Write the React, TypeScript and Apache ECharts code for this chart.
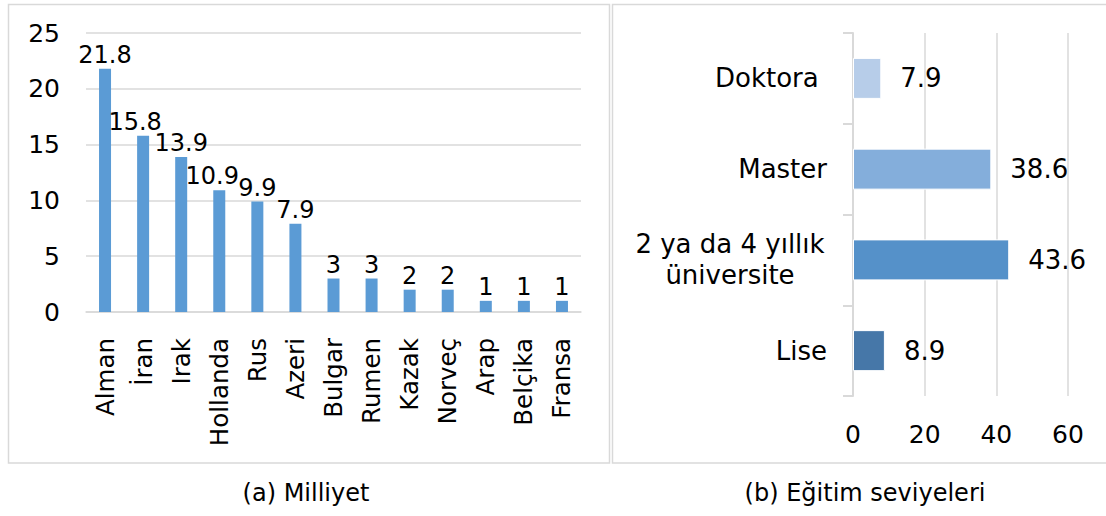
import React, { useEffect, useRef } from "react";
import * as echarts from "echarts";

const nationCategories = ["Alman", "İran", "Irak", "Hollanda", "Rus", "Azeri", "Bulgar", "Rumen", "Kazak", "Norveç", "Arap", "Belçika", "Fransa"];
const nationValues = [21.8, 15.8, 13.9, 10.9, 9.9, 7.9, 3, 3, 2, 2, 1, 1, 1];

const eduCategories = ["Doktora ", "Master", "2 ya da 4 yıllık\nüniversite", "Lise"];
const eduValues = [7.9, 38.6, 43.6, 8.9];
const eduColors = ["#B7CDE9", "#84AEDB", "#5591C9", "#4677A8"];

const captionA = "(a) Milliyet";
const captionB = "(b) Eğitim seviyeleri";

const FONT = "DejaVu Sans";
const GRAY = "#d9d9d9";

// horizontal nudges of crowded data labels (style only)
const labelNudge: Record<number, number> = { 1: -8, 3: -7 };

export default function App() {
  const ref = useRef<HTMLDivElement>(null);
  useEffect(() => {
    if (!ref.current) return;
    const chart = echarts.init(ref.current, null, { renderer: "svg" });
    chart.setOption({
      animation: false,
      textStyle: { fontFamily: FONT, color: "#000" },
      grid: [
        { left: 86, top: 33, width: 495, height: 279 },
        { left: 853, top: 33, width: 215, height: 363 },
      ],
      xAxis: [
        {
          gridIndex: 0,
          type: "category",
          data: nationCategories,
          axisLine: { show: true, lineStyle: { color: GRAY, width: 1.5 } },
          axisTick: { show: false },
          axisLabel: { rotate: 90, margin: 26, fontSize: 24.5, color: "#000", fontFamily: FONT, interval: 0 },
        },
        {
          gridIndex: 1,
          type: "value",
          min: 0,
          max: 60,
          interval: 20,
          axisLine: { show: false },
          axisTick: { show: false },
          splitLine: { show: true, lineStyle: { color: GRAY, width: 1.5 } },
          axisLabel: { margin: 26, fontSize: 25, color: "#000", fontFamily: FONT },
        },
      ],
      yAxis: [
        {
          gridIndex: 0,
          type: "value",
          min: 0,
          max: 25,
          interval: 5,
          axisLine: { show: false },
          axisTick: { show: false },
          splitLine: { show: true, lineStyle: { color: GRAY, width: 1.5 } },
          axisLabel: { margin: 26, fontSize: 25, color: "#000", fontFamily: FONT },
        },
        {
          gridIndex: 1,
          type: "category",
          data: eduCategories,
          inverse: true,
          axisLine: { show: true, lineStyle: { color: GRAY, width: 2 } },
          axisTick: { show: true, length: 10, lineStyle: { color: GRAY, width: 2 } },
          axisLabel: {
            margin: 26,
            fontSize: 26,
            color: "#000",
            fontFamily: FONT,
            formatter: (v: string) => {
              if (v.indexOf("\n") >= 0) {
                return v.split("\n").map((s) => "{c|" + s + "}").join("\n");
              }
              return v;
            },
            rich: {
              c: { width: 194, align: "center", fontSize: 26, lineHeight: 31, fontFamily: FONT, color: "#000" },
            },
          },
        },
      ],
      series: [
        {
          type: "bar",
          xAxisIndex: 0,
          yAxisIndex: 0,
          data: nationValues.map((v, i) =>
            labelNudge[i] !== undefined ? { value: v, label: { offset: [labelNudge[i], 0] } } : v
          ),
          barWidth: 12,
          itemStyle: { color: "#5B9BD5" },
          label: { show: true, position: "top", distance: 2, fontSize: 24, color: "#000", fontFamily: FONT },
        },
        {
          type: "bar",
          xAxisIndex: 1,
          yAxisIndex: 1,
          data: eduValues.map((v, i) => ({ value: v, itemStyle: { color: eduColors[i] } })),
          barWidth: 41,
          itemStyle: { borderColor: "#ffffff", borderWidth: 1 },
          label: { show: true, position: "right", distance: 19, fontSize: 26, color: "#000", fontFamily: FONT },
        },
      ],
      graphic: [
        { type: "rect", shape: { x: 8.5, y: 4.5, width: 601, height: 458.5 }, style: { fill: "none", stroke: GRAY, lineWidth: 1.5 }, silent: true },
        { type: "rect", shape: { x: 612.5, y: 4.5, width: 520, height: 458.5 }, style: { fill: "none", stroke: GRAY, lineWidth: 1.5 }, silent: true },
        { type: "text", x: 306, y: 493, style: { text: captionA, font: `24px "${FONT}"`, fill: "#000", align: "center", verticalAlign: "middle" } },
        { type: "text", x: 865, y: 493, style: { text: captionB, font: `24px "${FONT}"`, fill: "#000", align: "center", verticalAlign: "middle" } },
      ],
    });
    return () => chart.dispose();
  }, []);
  return <div ref={ref} style={{ position: "fixed", left: 0, top: 0, width: 1106, height: 516, background: "#fff" }} />;
}
